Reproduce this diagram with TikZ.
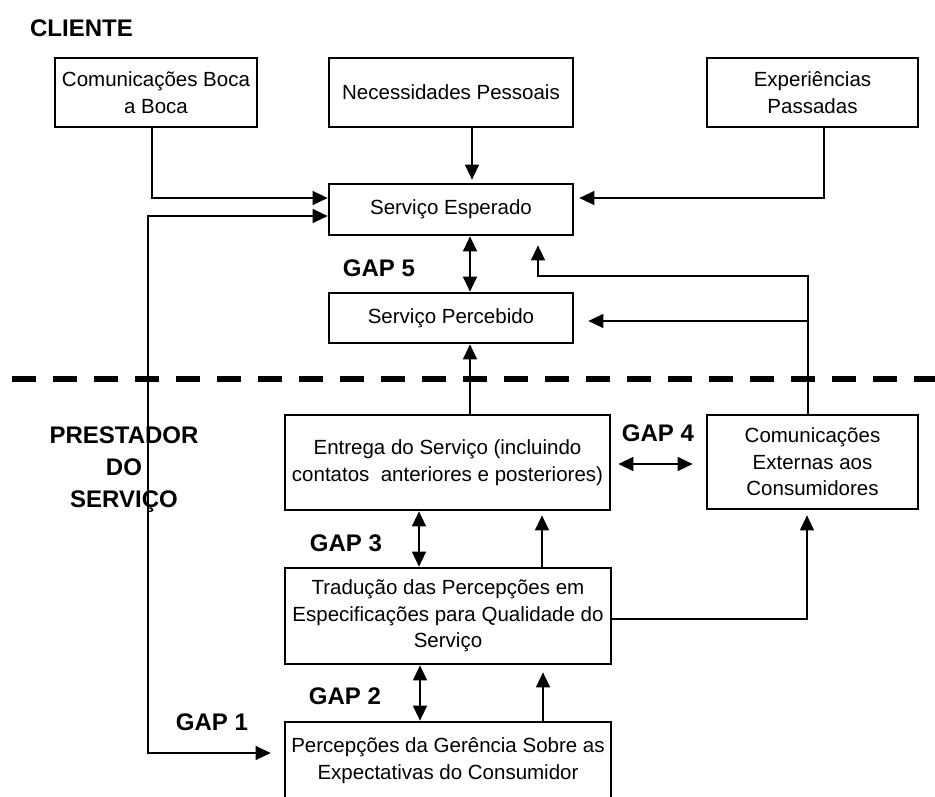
\documentclass[tikz,border=0pt]{standalone}
\usepackage{fontspec}
\setmainfont{Liberation Sans}
\usetikzlibrary{arrows.meta,calc}
\begin{document}
\begin{tikzpicture}[x=1pt,y=-1pt,
  box/.style={draw, line width=2.7pt, rectangle, align=center, inner sep=0pt,
    font=\fontsize{20.5}{26.5}\selectfont},
  lbl/.style={font=\fontsize{24}{32}\selectfont\bfseries, align=center, inner sep=0pt},
  conn/.style={line width=1.4pt},
  arr/.style={conn, -{Triangle[length=15pt,width=14pt]}},
  arrb/.style={conn, {Triangle[length=15pt,width=14pt]}-{Triangle[length=15pt,width=14pt]}},
  sep/.style={line width=6pt, dash pattern=on 24pt off 17pt}
]
\useasboundingbox (0,0) rectangle (935,796);

% boxes
\node[box, minimum width=202pt, minimum height=69pt] (B1) at (156,92.5) {Comunicações Boca\\a Boca};
\node[box, minimum width=244pt, minimum height=69pt] (B2) at (451,92.5) {Necessidades Pessoais};
\node[box, minimum width=211pt, minimum height=69pt] (B3) at (812.5,92.5) {Experiências\\Passadas};
\node[box, minimum width=244pt, minimum height=51pt] (SE) at (451,209.5) {Serviço Esperado};
\node[box, minimum width=244pt, minimum height=50pt] (SP) at (451,318) {Serviço Percebido};
\node[box, minimum width=325pt, minimum height=95pt] (EN) at (447.5,462.5) {Entrega do Serviço (incluindo\\contatos\ \ anteriores e posteriores)};
\node[box, minimum width=211pt, minimum height=94pt] (CE) at (812.5,462) {Comunicações\\Externas aos\\Consumidores};
\node[box, minimum width=326pt, minimum height=96pt] (TR) at (448,616) {Tradução das Percepções em\\Especificações para Qualidade do\\Serviço};
\node[box, minimum width=326pt, minimum height=77pt] (PG) at (448,760.5) {Percepções da Gerência Sobre as\\Expectativas do Consumidor};

% labels
\node[lbl] (cli) at (81.5,28) {CLIENTE};
\node[lbl] (pre) at (124,470) {PRESTADOR\\DO\\SERVIÇO};
\node[lbl] (g5) at (379,268) {GAP 5};
\node[lbl] (g4) at (658,433) {GAP 4};
\node[lbl] (g3) at (346,543) {GAP 3};
\node[lbl] (g2) at (345,696) {GAP 2};
\node[lbl] (g1) at (212,722) {GAP 1};

% separator
\coordinate (d1) at (12,379);
\coordinate (d2) at (935,379);
\draw[sep] (d1) -- (d2);

% connectors
\draw[arr] ([xshift=-4pt]B1.south) |- ([yshift=11.5pt]SE.west);
\draw[arr, shorten >=3pt] ([xshift=21pt]B2.south) -- ([xshift=21pt]SE.north);
\draw[arr, shorten >=5pt] ([xshift=11.5pt]B3.south) |- ([yshift=11.5pt]SE.east);

\coordinate (k0) at (148,753);
\draw[arrb, shorten >=13pt] ([yshift=-6.5pt]SE.west) -| (k0) -- (k0 -| PG.west);

\draw[arrb] ([xshift=19pt]SE.south) -- ([xshift=19pt]SP.north);

\coordinate (k1) at (538,276);
\coordinate (k2) at (808,321);
\draw[arr, shorten >=9pt] ([xshift=-4.5pt]CE.north) |- (k1) -- ([xshift=87pt]SE.south);
\draw[arr, shorten >=14pt] (k2) -- (k2 -| SP.east);

\draw[arr] ([xshift=22.5pt]EN.north) -- ([xshift=19pt]SP.south);
\draw[arrb, shorten <=7pt, shorten >=13pt] ([yshift=-1.5pt]EN.east) -- ([yshift=-1.5pt]EN.east -| CE.west);

\draw[arrb] ([xshift=-28.5pt]EN.south) -- ([xshift=-29pt]TR.north);
\draw[arr, shorten >=4pt] ([xshift=94pt]TR.north) -- ([xshift=94.5pt]EN.south);
\draw[arr, shorten >=5pt] ([yshift=-3pt]TR.east) -| ([xshift=-5.5pt]CE.south);

\draw[arrb] ([xshift=-28pt]TR.south) -- ([xshift=-28pt]PG.north);
\draw[arr, shorten >=7pt] ([xshift=95pt]PG.north) -- ([xshift=95pt]TR.south);
\end{tikzpicture}
\end{document}
